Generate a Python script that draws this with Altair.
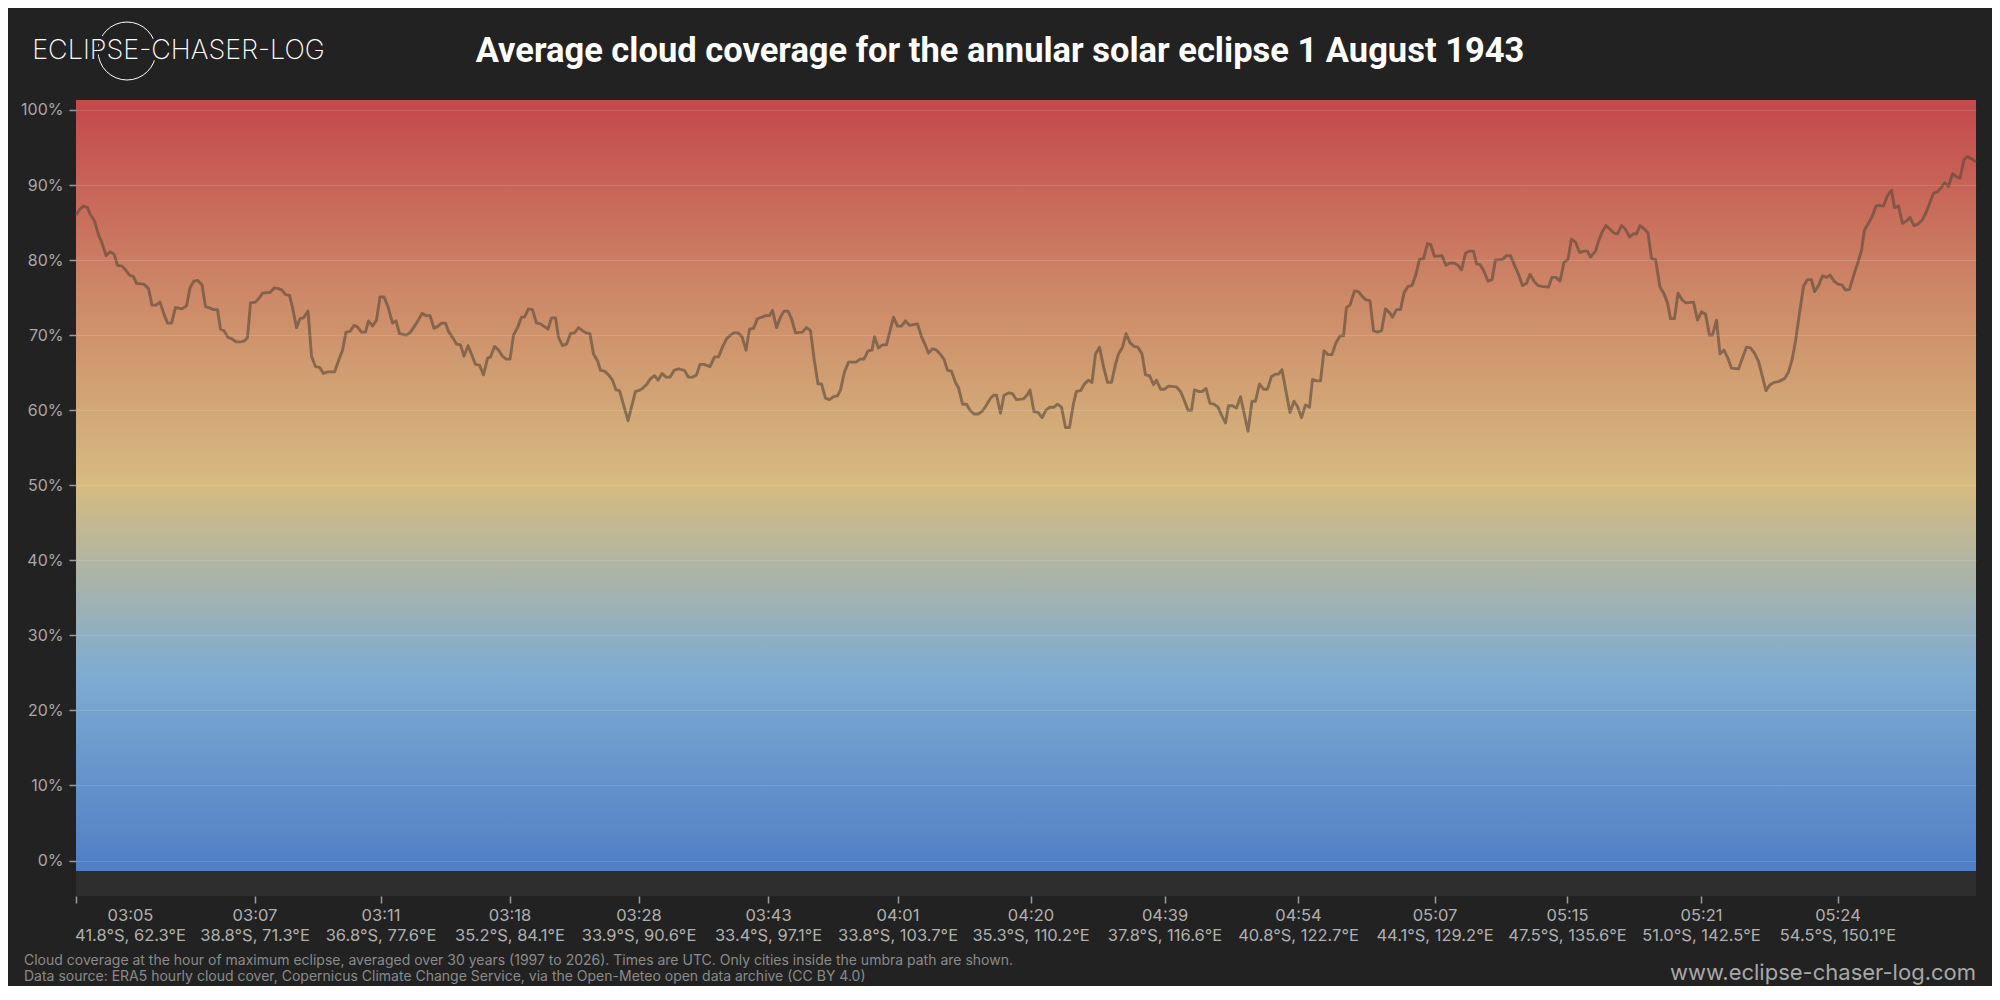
import json
import altair as alt
import pandas as pd

# ---------------- data ----------------
# position along the eclipse track (sample index) and average cloud cover (%)
pos = [
    0, 0.8, 1.5, 2.3, 2.9, 3.7, 4.5, 5.2, 6.0, 6.8, 7.6, 8.3, 9.2, 9.9, 10.7, 11.5, 12.1, 13.6, 14.5, 15.2,
    16.0, 16.8, 17.6, 18.3, 19.1, 19.9, 21.2, 22.1, 22.8, 23.6, 24.3, 25.2, 25.9, 26.8, 27.5, 28.3, 28.9, 29.6, 30.4, 31.2,
    32.0, 32.9, 33.6, 34.3, 34.9, 35.9, 36.7, 37.3, 38.8, 39.7, 40.5, 41.2, 41.9, 42.7, 43.3, 44.1, 44.8, 45.5, 46.4, 47.1,
    47.9, 48.7, 49.5, 50.3, 51.7, 52.5, 53.3, 54.0, 54.8, 55.6, 56.3, 57.1, 57.9, 58.5, 59.3, 60.1, 60.8, 61.6, 62.4,
    63.3, 64.0, 64.7, 66.1, 66.9, 68.3, 69.2, 70.0, 70.8, 71.6, 72.4, 73.1, 73.9, 74.5, 75.5, 76.1, 76.9, 77.6, 78.4, 79.2,
    79.9, 80.7, 81.5, 82.3, 82.9, 83.7, 84.5, 85.3, 86.0, 86.8, 87.5, 88.3, 89.1, 89.7, 90.5, 91.3, 92.1, 92.9, 94.4, 95.1,
    95.9, 96.5, 97.3, 98.1, 98.9, 99.7, 100.5, 101.3, 102.0, 102.8, 103.5, 104.3, 104.9, 105.7, 106.5, 107.3, 108.0, 108.7, 110.4, 111.9,
    112.5, 113.3, 114.1, 114.9, 115.7, 116.4, 117.2, 118.0, 118.8, 119.6, 120.5, 121.7, 122.5, 123.3, 124.1, 124.8, 125.6,
    126.8, 127.7, 128.5, 129.3, 130.1, 130.9, 131.6, 132.4, 133.2, 134.0, 134.7, 135.5, 136.3, 137.2, 137.9, 138.7, 139.3, 140.1, 140.9, 141.6,
    142.4, 143.1, 143.9, 145.3, 146.1, 146.9, 147.6, 148.4, 149.1, 149.9, 150.7, 151.5, 152.3, 152.9, 153.7, 154.5, 156.0, 156.8, 157.6, 158.4,
    159.2, 159.7, 160.5, 161.3, 162.1, 163.5, 164.3, 165.1, 165.9, 166.7, 168.3, 169.1, 169.9, 170.5, 171.3, 172.1, 172.8, 173.6, 174.3, 175.1,
    175.9, 176.5, 177.3, 178.1, 178.8, 179.6, 180.5, 181.3, 182.1, 182.9, 183.5, 184.1, 184.9, 185.6, 186.5, 187.3, 188.1, 189.5, 190.3,
    190.8, 191.6, 192.4, 193.2, 194.0, 194.8, 195.6, 196.3, 197.1, 197.9, 198.7, 199.5, 200.1, 200.9, 201.7, 202.5, 203.2, 203.9, 204.7, 205.5,
    206.3, 207.1, 207.9, 208.5, 209.3, 210.0, 210.8, 211.6, 212.4, 213.2, 213.9, 214.7, 215.5, 216.1, 216.9, 217.7, 218.5, 220.1, 220.9, 221.6,
    222.4, 223.1, 223.7, 224.5, 225.3, 226.0, 226.8, 227.6, 228.4, 229.2, 229.9, 230.5, 231.3, 232.1, 232.9, 234.4, 235.2, 235.9, 236.7, 237.5,
    238.3, 239.1, 239.9, 240.5, 241.2, 242.0, 242.8, 243.6, 244.3, 245.1, 245.9, 246.7, 247.3, 248.1, 248.9, 249.6, 250.4, 251.2, 252.0, 252.8,
    253.5, 254.1,
    254.8, 255.7, 256.5, 257.2, 258.0, 258.8, 259.5, 260.3, 261.1, 261.9, 262.7, 263.3, 264.1, 264.9, 265.6, 266.4, 267.2, 267.9, 268.7, 269.5,
    270.3, 270.9, 271.7, 273.2, 274.0, 274.8, 275.6, 276.4, 277.1, 277.9, 278.7, 279.5, 280.1, 280.8, 281.6, 282.4, 283.2, 283.9, 285.3, 286.1,
    286.9, 287.7, 288.5, 289.3, 290.1, 290.8, 291.6, 292.4, 293.2, 294.5, 295.2, 296.0, 296.8, 297.6, 298.4, 299.1, 299.9, 300.7, 301.5, 302.3,
    302.9, 303.9, 304.5, 305.2, 306.0, 306.8, 307.6, 308.3, 309.1, 309.9, 310.7, 311.5, 312.1, 312.8, 313.6, 314.4, 315.1, 315.9,
    316.8, 317.6, 318.3, 318.9, 319.7, 320.4, 321.2, 322.0, 323.5, 324.3, 325.1, 325.9, 326.7, 327.3, 328.1, 328.8, 329.6, 330.4, 331.1, 332.5,
    333.3, 334.1, 334.9, 335.7, 336.5, 337.2, 338.0, 338.8, 339.6, 340.5, 341.7, 342.5, 343.2, 343.9, 344.7, 345.5, 346.3, 347.1, 347.7, 348.5,
    349.3, 350.1, 350.8, 351.6, 352.4, 353.2, 353.9, 354.7, 355.5, 356.3, 357.1, 357.7, 358.5, 359.3, 360.0, 360.8, 361.5, 362.3, 363.1, 363.7,
    364.5, 365.3, 366.1, 366.8, 367.6, 368.4, 369.2, 370.0, 370.8, 371.5, 372.3, 373.1, 373.7, 374.5, 375.3, 376.1, 376.8, 377.6, 378.3, 379.1,
    380.0,
]
cover = [
    86.0, 86.8, 87.2, 87.0, 86.0, 85.2, 83.4, 82.3, 80.6, 81.1, 80.8, 79.3, 79.2, 78.7, 78.0, 77.8, 76.9, 76.8, 76.2, 74.0,
    74.0, 74.4, 72.8, 71.6, 71.6, 73.7, 73.5, 73.9, 76.3, 77.2, 77.3, 76.7, 73.8, 73.6, 73.4, 73.4, 70.8, 70.6, 69.7, 69.5,
    69.1, 69.1, 69.2, 69.7, 74.3, 74.4, 75.0, 75.6, 75.7, 76.3, 76.2, 76.0, 75.4, 75.3, 73.7, 71.0, 72.2, 72.3, 73.2, 67.2,
    65.8, 65.7, 64.9, 65.1, 65.1, 66.6, 68.0, 70.4, 70.5, 71.3, 71.1, 70.4, 70.4, 71.9, 71.2, 72.0, 75.1, 75.1, 73.8,
    71.6, 71.9, 70.2, 70.0, 70.4, 71.8, 72.9, 72.6, 72.6, 70.9, 71.2, 71.6, 71.6, 70.5, 69.5, 68.8, 68.7, 67.2, 68.6, 67.3,
    66.1, 66.0, 64.7, 66.9, 67.1, 68.5, 68.0, 67.2, 66.8, 66.8, 70.0, 71.0, 72.4, 72.4, 73.5, 73.4, 71.6, 71.5, 70.8, 72.3,
    72.3, 69.7, 68.6, 68.8, 70.2, 70.3, 71.0, 70.6, 70.3, 70.2, 67.5, 66.6, 65.3, 65.2, 64.7, 64.0, 62.7, 62.6, 58.6, 62.5,
    62.6, 62.9, 63.4, 64.2, 64.6, 64.0, 64.9, 64.4, 64.4, 65.3, 65.5, 65.3, 64.4, 64.4, 64.7, 66.1, 66.1,
    65.8, 67.1, 67.1, 68.4, 69.5, 70.0, 70.3, 70.3, 69.8, 68.0, 70.8, 70.9, 72.2, 72.4, 72.6, 72.6, 73.3, 71.0, 72.4, 73.2,
    73.2, 72.2, 70.3, 70.4, 71.0, 70.6, 66.9, 63.5, 63.5, 61.6, 61.4, 61.8, 61.9, 62.7, 65.1, 66.4, 66.4, 66.8, 66.8, 67.9,
    68.0, 69.8, 68.3, 68.7, 68.7, 72.4, 71.2, 71.2, 71.9, 71.3, 71.5, 69.8, 68.6, 67.6, 68.2, 68.0, 67.5, 66.8, 65.3, 65.2,
    63.7, 63.0, 60.8, 60.8, 60.0, 59.5, 59.5, 59.9, 60.7, 61.6, 62.0, 62.0, 59.6, 62.0, 62.3, 62.2, 61.4, 61.5, 62.1,
    62.7, 59.8, 59.7, 59.0, 60.0, 60.4, 60.4, 60.8, 60.4, 57.7, 57.7, 60.9, 62.5, 62.6, 63.5, 64.0, 63.7, 67.5, 68.4, 65.8,
    63.7, 63.7, 66.1, 67.5, 68.4, 70.2, 69.0, 68.5, 68.4, 67.5, 64.7, 64.6, 63.4, 64.0, 62.8, 62.8, 63.2, 63.1, 62.5, 61.4,
    60.0, 60.0, 62.7, 62.5, 62.5, 62.9, 60.9, 60.8, 60.4, 59.2, 58.3, 60.6, 60.6, 60.3, 61.8, 57.2, 61.2, 61.2, 63.5, 62.8,
    62.8, 64.5, 64.8, 64.8, 65.4, 62.5, 59.7, 61.2, 60.5, 59.0, 60.7, 60.4, 64.1, 63.9, 63.9, 67.9, 67.4, 67.4, 69.0, 69.9,
    69.9, 73.7,
    74.0, 75.9, 75.8, 75.2, 74.7, 74.6, 70.6, 70.4, 70.6, 73.5, 73.0, 72.4, 73.4, 73.4, 75.6, 76.5, 76.6, 77.9, 80.1, 80.2,
    82.2, 82.1, 80.5, 80.6, 79.3, 79.6, 79.6, 79.3, 78.7, 80.9, 81.2, 81.2, 79.5, 79.4, 78.5, 77.2, 77.4, 80.0, 80.1, 80.6,
    80.6, 79.3, 78.1, 76.6, 76.9, 78.1, 77.2, 76.6, 76.5, 76.4, 77.7, 77.7, 77.2, 79.7, 80.1, 82.8, 82.4, 81.0, 81.2, 81.2,
    80.4, 81.2, 82.5, 83.7, 84.6, 84.1, 83.6, 83.5, 84.6, 84.1, 83.1, 83.5, 83.5, 84.6, 84.2, 83.6, 80.2, 80.1,
    76.4, 75.5, 74.3, 72.2, 72.2, 75.6, 74.7, 74.3, 74.4, 72.0, 73.1, 72.8, 70.0, 70.0, 72.0, 67.5, 68.0, 66.9, 65.6, 65.5,
    67.0, 68.4, 68.3, 67.6, 66.5, 64.7, 62.6, 63.4, 63.7, 63.8, 64.2, 65.1, 66.7, 69.2, 72.9, 76.5, 77.4, 77.4, 75.8, 76.6,
    77.9, 77.7, 78.0, 77.2, 76.8, 76.7, 76.0, 76.1, 77.9, 79.5, 81.3, 84.0, 84.9, 85.9, 87.2, 87.3, 87.2, 88.6, 89.3, 87.0,
    87.2, 84.9, 85.2, 85.7, 84.6, 84.8, 85.3, 86.3, 87.7, 88.9, 89.1, 89.7, 90.3, 89.8, 91.5, 91.1, 90.9, 93.4, 93.8, 93.5,
    93.1,
]

tick_pos = [0, 35.7, 60.9, 86.7, 112.5, 138.4, 164.3, 190.9, 217.7, 244.4, 271.7, 298.2, 325.0, 352.3]
tick_time = ["03:05", "03:07", "03:11", "03:18", "03:28", "03:43", "04:01",
             "04:20", "04:39", "04:54", "05:07", "05:15", "05:21", "05:24"]
tick_place = ["41.8°S, 62.3°E", "38.8°S, 71.3°E", "36.8°S, 77.6°E", "35.2°S, 84.1°E",
              "33.9°S, 90.6°E", "33.4°S, 97.1°E", "33.8°S, 103.7°E", "35.3°S, 110.2°E",
              "37.8°S, 116.6°E", "40.8°S, 122.7°E", "44.1°S, 129.2°E", "47.5°S, 135.6°E",
              "51.0°S, 142.5°E", "54.5°S, 150.1°E"]
y_ticks = [0, 10, 20, 30, 40, 50, 60, 70, 80, 90, 100]

title_text = "Average cloud coverage for the annular solar eclipse 1 August 1943"
logo_text = "ECLIPSE-CHASER-LOG"
note_1 = ("Cloud coverage at the hour of maximum eclipse, averaged over 30 years (1997 to 2026). "
          "Times are UTC. Only cities inside the umbra path are shown.")
note_2 = "Data source: ERA5 hourly cloud cover, Copernicus Climate Change Service, via the Open-Meteo open data archive (CC BY 4.0)"
site_text = "www.eclipse-chaser-log.com"

# ---------------- chart ----------------
W, H = 1900, 796
pairs = list(zip(pos, cover))
df = pd.DataFrame({"pos": [p for p, _ in pairs], "cover": [c for _, c in pairs]})
one = pd.DataFrame({"k": [0]})

xscale = alt.Scale(domain=[0, 380], nice=False, zero=False)
yscale = alt.Scale(domain=[-4.73, 101.33], nice=False, zero=False)

label_expr = (
    f"[{json.dumps(tick_time)}[indexof({json.dumps(tick_pos)}, datum.value)], "
    f"{json.dumps(tick_place, ensure_ascii=False)}[indexof({json.dumps(tick_pos)}, datum.value)]]"
)

x_axis = alt.Axis(
    values=tick_pos, labelExpr=label_expr, title=None, domain=False, grid=False,
    ticks=True, tickSize=7, tickColor="#9a9a9a", tickWidth=1.5,
    labelColor="#b0b0b0", labelFont="Inter", labelFontSize=16.5, labelLineHeight=20.5,
    labelPadding=4, labelFlush=False, labelOverlap=False, labelBound=False,
    labelOffset={"condition": {"test": "datum.value == 0", "value": 54}, "value": 0},
)
y_axis = alt.Axis(
    values=y_ticks, labelExpr="datum.value + '%'", title=None, domain=False,
    ticks=True, tickSize=7, tickColor="#9a9a9a", tickWidth=1.5,
    labelColor="#a8a8a8", labelFont="Inter", labelFontSize=16, labelPadding=6,
    grid=True, gridColor="#ffffff", gridOpacity=0.13, gridWidth=1, zindex=1,
)

grad = alt.Gradient(
    gradient="linear", x1=0, x2=0, y1=0, y2=1,
    stops=[
        alt.GradientStop(color="#c44a4c", offset=0.0),
        alt.GradientStop(color="#c44b4d", offset=0.013),
        alt.GradientStop(color="#cd8968", offset=0.256),
        alt.GradientStop(color="#d6bb80", offset=0.499),
        alt.GradientStop(color="#7eacd2", offset=0.743),
        alt.GradientStop(color="#5280c6", offset=0.986),
        alt.GradientStop(color="#5080c6", offset=1.0),
    ],
)

band = alt.Chart(one).mark_rect(fill=grad).encode(
    x=alt.X(datum=0, scale=xscale, axis=x_axis),
    x2=alt.X2(datum=380),
    y=alt.Y(datum=101.33, scale=yscale, axis=y_axis),
    y2=alt.Y2(datum=-1.4),
)

line = alt.Chart(df).mark_line(color="#5a4838", opacity=0.62, strokeWidth=2.9, strokeJoin="round").encode(
    x=alt.X("pos:Q", scale=xscale, axis=x_axis, title=None),
    y=alt.Y("cover:Q", scale=yscale, axis=y_axis, title=None),
)

# page coordinates minus the plot origin (76, 100)
title_mark = alt.Chart(one).mark_text(text=title_text, font="Roboto", fontSize=34.5, fontWeight="bold",
                                      color="#ffffff", align="center", baseline="alphabetic").encode(
    x=alt.value(924), y=alt.value(-38))

logo_circle = alt.Chart(one).mark_point(shape="circle", size=3364, filled=False, stroke="#ffffff",
                                        strokeWidth=1, opacity=1).encode(
    x=alt.value(51), y=alt.value(-49))
logo_mask = alt.Chart(one).mark_text(text=logo_text, font="Inter", fontSize=27, fontWeight=200,
                                     align="center", baseline="middle", fill="#222222",
                                     stroke="#222222", strokeWidth=7).encode(
    x=alt.value(102.5), y=alt.value(-49))
logo_word = alt.Chart(one).mark_text(text=logo_text, font="Inter", fontSize=27, fontWeight=200,
                                     align="center", baseline="middle", color="#ffffff").encode(
    x=alt.value(102.5), y=alt.value(-49))

n1 = alt.Chart(one).mark_text(text=note_1, font="Inter", fontSize=14, color="#8a8a8a",
                              align="left", baseline="middle").encode(x=alt.value(-52), y=alt.value(861))
n2 = alt.Chart(one).mark_text(text=note_2, font="Inter", fontSize=14, color="#8a8a8a",
                              align="left", baseline="middle").encode(x=alt.value(-52), y=alt.value(877))
site = alt.Chart(one).mark_text(text=site_text, font="Inter", fontSize=22, color="#a8a8a8",
                                align="right", baseline="middle").encode(x=alt.value(W), y=alt.value(873))

chart = alt.layer(band, line, title_mark, logo_circle, logo_mask, logo_word, n1, n2, site).properties(
    width=W, height=H,
    padding={"left": 68, "top": 92, "right": 16, "bottom": 90},
    autosize=alt.AutoSizeParams(type="none"),
    background="#222222",
).configure_view(fill="#2e2e2e", stroke=None)

chart.save("out.html", embed_options={"renderer": "svg", "actions": False})
